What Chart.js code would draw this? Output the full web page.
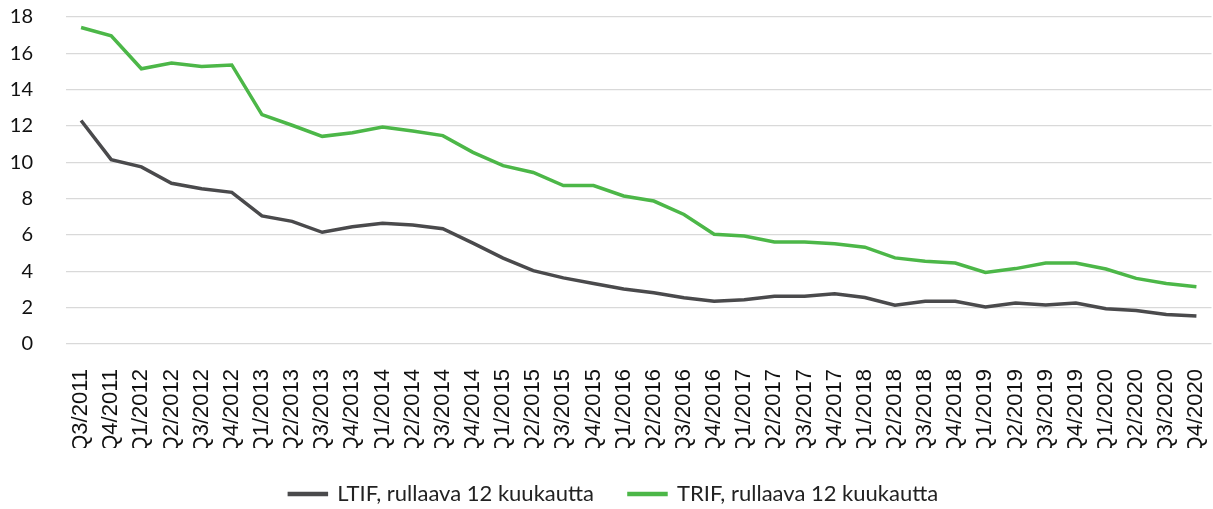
<!DOCTYPE html>
<html>
<head>
<meta charset="utf-8">
<script src="https://cdn.jsdelivr.net/npm/chart.js@4"></script>
<style>
  html, body { margin: 0; padding: 0; background: #fff; }
  #wrap { width: 1213px; height: 509px; }
</style>
</head>
<body>
<div id="wrap"><canvas id="chart" width="1213" height="509"></canvas></div>
<script>
const quarters = [
  'Q3/2011', 'Q4/2011',
  'Q1/2012', 'Q2/2012', 'Q3/2012', 'Q4/2012',
  'Q1/2013', 'Q2/2013', 'Q3/2013', 'Q4/2013',
  'Q1/2014', 'Q2/2014', 'Q3/2014', 'Q4/2014',
  'Q1/2015', 'Q2/2015', 'Q3/2015', 'Q4/2015',
  'Q1/2016', 'Q2/2016', 'Q3/2016', 'Q4/2016',
  'Q1/2017', 'Q2/2017', 'Q3/2017', 'Q4/2017',
  'Q1/2018', 'Q2/2018', 'Q3/2018', 'Q4/2018',
  'Q1/2019', 'Q2/2019', 'Q3/2019', 'Q4/2019',
  'Q1/2020', 'Q2/2020', 'Q3/2020', 'Q4/2020',
]

const ltif = [
  12.3, 10.15, 9.75, 8.85, 8.55, 8.35, 7.05, 6.75, 6.15, 6.45,
  6.65, 6.55, 6.35, 5.55, 4.73, 4.04, 3.64, 3.33, 3.03, 2.82,
  2.55, 2.35, 2.44, 2.63, 2.63, 2.76, 2.56, 2.13, 2.35, 2.35,
  2.04, 2.26, 2.15, 2.26, 1.94, 1.85, 1.63, 1.54,
]

const trif = [
  17.42, 16.97, 15.15, 15.47, 15.27, 15.36, 12.63, 12.04, 11.43, 11.63,
  11.94, 11.72, 11.47, 10.55, 9.82, 9.44, 8.72, 8.72, 8.15, 7.87,
  7.13, 6.04, 5.94, 5.62, 5.62, 5.52, 5.33, 4.74, 4.56, 4.46,
  3.94, 4.15, 4.46, 4.46, 4.13, 3.61, 3.33, 3.15,
]

const yTicks = { min: 0, max: 18, step: 2 }

// nudge the legend a bit right, the original isn't quite centred
const legendShift = {
  id: 'legendShift',
  afterLayout: function (chart) {
    chart.legend.left += 8
    chart.legend.right += 8
  },
}

const ctx = document.getElementById('chart').getContext('2d')
const chart = new Chart(ctx, {
  type: 'line',
  data: {
    labels: quarters,
    datasets: [
      {
        label: 'LTIF, rullaava 12 kuukautta',
        data: ltif,
        borderColor: '#4a4a4c',
        backgroundColor: '#4a4a4c',
        borderWidth: 3.5,
        pointRadius: 0,
        tension: 0,
      },
      {
        label: 'TRIF, rullaava 12 kuukautta',
        data: trif,
        borderColor: '#4cb748',
        backgroundColor: '#4cb748',
        borderWidth: 3.5,
        pointRadius: 0,
        tension: 0,
      },
    ],
  },
  plugins: [legendShift],
  options: {
    responsive: false,
    animation: false,
    layout: {
      padding: { top: 17, right: 1.5, left: 0, bottom: -6 },
    },
    plugins: {
      tooltip: { enabled: false },
      legend: {
        display: true,
        position: 'bottom',
        labels: {
          boxWidth: 37,
          boxHeight: 1,
          padding: 35,
          color: '#222',
          font: { family: 'Lato', size: 22 },
        },
      },
    },
    scales: {
      x: {
        offset: true,
        grid: {
          display: true,
          drawOnChartArea: false,
          drawTicks: true,
          tickLength: 25,
          tickColor: 'transparent',
          color: 'transparent',
        },
        border: { display: false },
        ticks: {
          autoSkip: false,
          minRotation: 90,
          maxRotation: 90,
          padding: 0,
          color: '#111',
          font: { family: 'Liberation Sans', size: 22 },
        },
        afterFit: function (scale) {
          scale.paddingLeft = 0
          scale.paddingRight = 0
          scale.height = 104
        },
      },
      y: {
        min: yTicks.min,
        max: yTicks.max,
        border: { display: false },
        grid: {
          color: '#d9d9d9',
          lineWidth: 1.2,
          drawTicks: true,
          tickLength: 33,
          tickColor: 'transparent',
        },
        ticks: {
          stepSize: yTicks.step,
          padding: 0,
          color: '#111',
          font: { family: 'Lato', size: 20 },
        },
        afterFit: function (scale) {
          scale.paddingTop = 0
          scale.paddingBottom = 0
          scale.width = 66
        },
      },
    },
  },
})
</script>
</body>
</html>
